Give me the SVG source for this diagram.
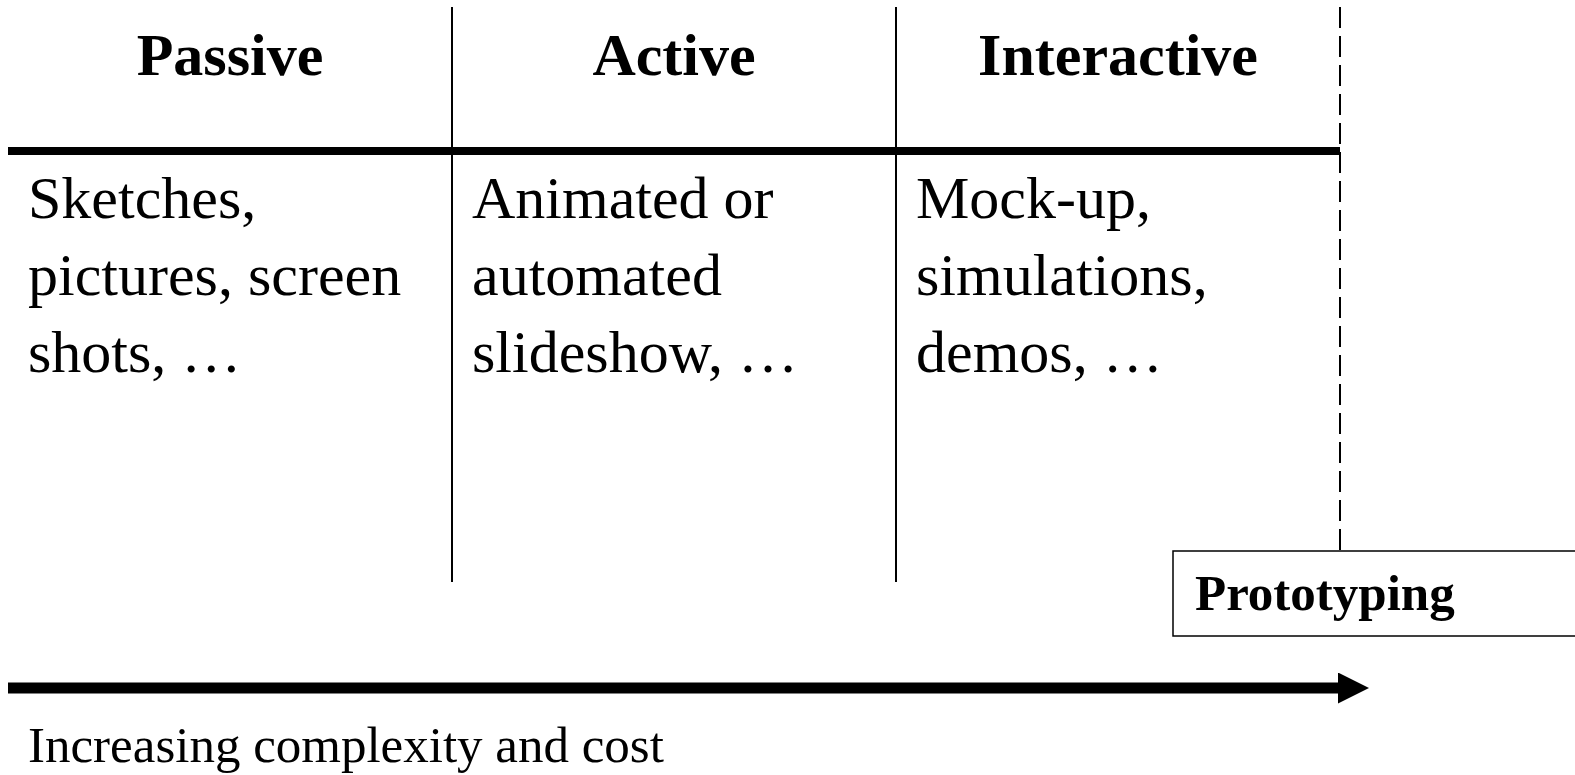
<svg xmlns="http://www.w3.org/2000/svg" width="1575" height="775" viewBox="0 0 1575 775">
  <style>
    .head { font-family: "Liberation Serif", "Times New Roman", serif; font-weight: bold; font-size: 60px; fill: #000; text-anchor: middle; }
    .body { font-family: "Liberation Serif", "Times New Roman", serif; font-size: 60px; fill: #000; }
    .label { font-family: "Liberation Serif", "Times New Roman", serif; font-weight: bold; font-size: 51px; fill: #000; }
    .caption { font-family: "Liberation Serif", "Times New Roman", serif; font-size: 51px; fill: #000; }
    .rule { stroke: #000; fill: none; }
  </style>
  <defs>
    <marker id="arrowHead" markerWidth="31" markerHeight="31" viewBox="0 0 31 31" refX="0" refY="15.5" markerUnits="userSpaceOnUse" orient="auto">
      <path d="M0,0 L31,15.5 L0,31 Z" fill="#000"/>
    </marker>
  </defs>

  <!-- table frame: header rule, column dividers, dashed boundary -->
  <g id="table-frame">
    <line class="rule" x1="8" y1="151" x2="1340" y2="151" stroke-width="8"/>
    <line class="rule" x1="452" y1="7" x2="452" y2="582" stroke-width="2"/>
    <line class="rule" x1="896" y1="7" x2="896" y2="582" stroke-width="2"/>
    <line class="rule" x1="1340" y1="7" x2="1340" y2="552" stroke-width="2" stroke-dasharray="21 8"/>
  </g>

  <g id="col-passive">
    <text class="head" x="230" y="75">Passive</text>
    <text class="body" x="28" y="218">Sketches,</text>
    <text class="body" x="28" y="295">pictures, screen</text>
    <text class="body" x="28" y="372">shots, …</text>
  </g>

  <g id="col-active">
    <text class="head" x="674" y="75">Active</text>
    <text class="body" x="472" y="218">Animated or</text>
    <text class="body" x="472" y="295">automated</text>
    <text class="body" x="472" y="372">slideshow, …</text>
  </g>

  <g id="col-interactive">
    <text class="head" x="1118" y="75">Interactive</text>
    <text class="body" x="916" y="218">Mock-up,</text>
    <text class="body" x="916" y="295">simulations,</text>
    <text class="body" x="916" y="372">demos, …</text>
  </g>

  <g id="prototyping">
    <rect x="1173" y="551" width="420" height="85" fill="#fff" stroke="#000" stroke-width="1.5"/>
    <text class="label" x="1195" y="610">Prototyping</text>
  </g>

  <g id="connectors">
    <line x1="8" y1="688" x2="1338" y2="688" stroke="#000" stroke-width="11" marker-end="url(#arrowHead)"/>
  </g>

  <g id="axis-caption">
    <text class="caption" x="28" y="762">Increasing complexity and cost</text>
  </g>
</svg>
